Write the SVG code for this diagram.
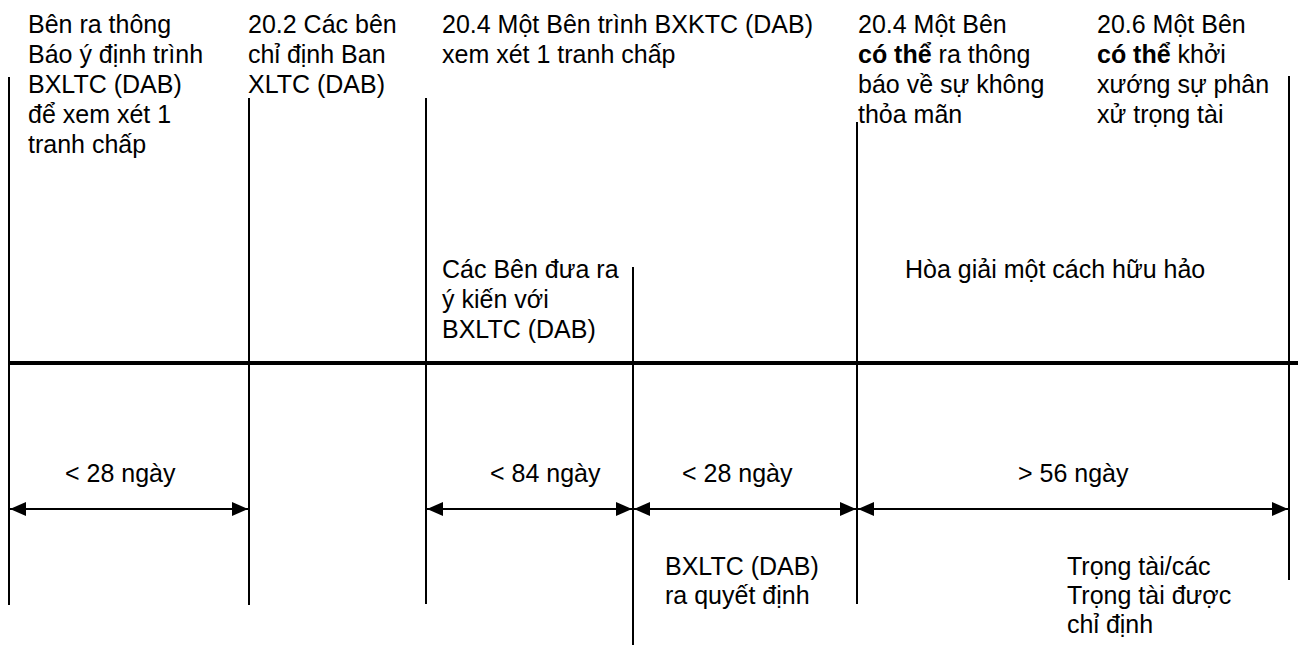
<svg xmlns="http://www.w3.org/2000/svg" width="1298" height="645" viewBox="0 0 1298 645">
  <defs>
    <style>
      text { font-family: "Liberation Sans", Arial, sans-serif; font-size: 25px; fill: #000; }
      .b { font-weight: bold; }
      .v { stroke: #000; stroke-width: 2; fill: none; }
      .axis { stroke: #000; stroke-width: 4; fill: none; }
      .dim { stroke: #000; stroke-width: 2; fill: none; marker-start: url(#ah); marker-end: url(#ah); }
    </style>
    <marker id="ah" markerUnits="userSpaceOnUse" markerWidth="16" markerHeight="14" refX="16" refY="7" orient="auto-start-reverse" viewBox="0 0 16 14">
      <path d="M0,0 L16,7 L0,14 z" fill="#000"/>
    </marker>
  </defs>

  <rect width="1298" height="645" fill="#fff"/>

  <!-- timeline: main axis, event ticks and duration arrows -->
  <g id="connectors">
    <line class="axis" x1="8" y1="363" x2="1298" y2="363"/>
    <line class="v" x1="9" y1="77" x2="9" y2="605"/>
    <line class="v" x1="249" y1="98" x2="249" y2="605"/>
    <line class="v" x1="426" y1="98" x2="426" y2="604"/>
    <line class="v" x1="633" y1="267" x2="633" y2="645"/>
    <line class="v" x1="857" y1="122" x2="857" y2="604"/>
    <line class="v" x1="1289" y1="76" x2="1289" y2="580"/>

    <line class="dim" x1="10" y1="509" x2="248" y2="509"/>
    <line class="dim" x1="427" y1="509" x2="632" y2="509"/>
    <line class="dim" x1="634" y1="509" x2="856" y2="509"/>
    <line class="dim" x1="858" y1="509" x2="1288" y2="509"/>
  </g>

  <g id="notice-dab">
    <text x="28" y="33">Bên ra thông</text>
    <text x="28" y="63">Báo ý định trình</text>
    <text x="28" y="93">BXLTC (DAB)</text>
    <text x="28" y="123">để xem xét 1</text>
    <text x="28" y="153">tranh chấp</text>
  </g>

  <g id="appoint-dab">
    <text x="248" y="33">20.2 Các bên</text>
    <text x="248" y="63">chỉ định Ban</text>
    <text x="248" y="93">XLTC (DAB)</text>
  </g>

  <g id="refer-dispute">
    <text x="442" y="33">20.4 Một Bên trình BXKTC (DAB)</text>
    <text x="442" y="63">xem xét 1 tranh chấp</text>
  </g>

  <g id="parties-submissions">
    <text x="442" y="278">Các Bên đưa ra</text>
    <text x="442" y="308">ý kiến với</text>
    <text x="442" y="338">BXLTC (DAB)</text>
  </g>

  <g id="dissatisfaction">
    <text x="858" y="33">20.4 Một Bên</text>
    <text x="858" y="63"><tspan class="b">có thể</tspan> ra thông</text>
    <text x="858" y="93">báo về sự không</text>
    <text x="858" y="123">thỏa mãn</text>
  </g>

  <g id="arbitration">
    <text x="1097" y="33">20.6 Một Bên</text>
    <text x="1097" y="63"><tspan class="b">có thể</tspan> khởi</text>
    <text x="1097" y="93">xướng sự phân</text>
    <text x="1097" y="123">xử trọng tài</text>
  </g>

  <g id="amicable-settlement">
    <text x="905" y="278">Hòa giải một cách hữu hảo</text>
  </g>

  <g id="period-1"><text x="65" y="482">&lt; 28 ngày</text></g>
  <g id="period-2"><text x="490" y="482">&lt; 84 ngày</text></g>
  <g id="period-3"><text x="682" y="482">&lt; 28 ngày</text></g>
  <g id="period-4"><text x="1018" y="482">&gt; 56 ngày</text></g>

  <g id="dab-decision">
    <text x="665" y="575">BXLTC (DAB)</text>
    <text x="665" y="604">ra quyết định</text>
  </g>

  <g id="arbitrators">
    <text x="1067" y="575">Trọng tài/các</text>
    <text x="1067" y="604">Trọng tài được</text>
    <text x="1067" y="633">chỉ định</text>
  </g>
</svg>
